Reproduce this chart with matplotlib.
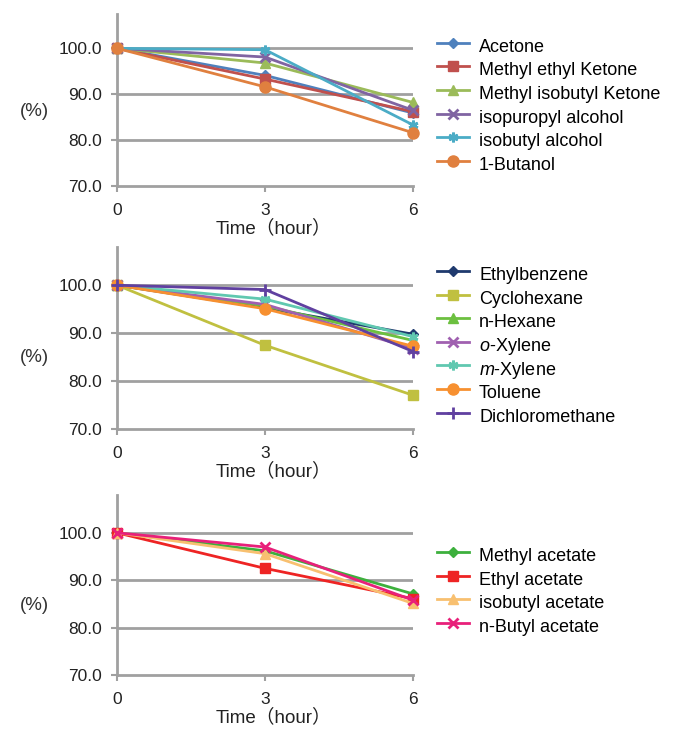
import matplotlib
matplotlib.use('Agg')
import matplotlib.pyplot as plt

plt.rcParams['font.family'] = ['Liberation Sans', 'Noto Sans CJK JP', 'DejaVu Sans']
plt.rcParams['mathtext.fontset'] = 'custom'
plt.rcParams['mathtext.rm'] = 'Liberation Sans'
plt.rcParams['mathtext.it'] = 'Liberation Sans:italic'

hours = [0, 3, 6]
y_ticks = [70, 80, 90, 100]

# panel 1: ketones and alcohols
names1 = ['Acetone', 'Methyl ethyl Ketone', 'Methyl isobutyl Ketone',
          'isopuropyl alcohol', 'isobutyl alcohol', '1-Butanol']
vals1 = [[100, 94.1, 85.9],
         [100, 93.3, 86.2],
         [100, 96.8, 88.2],
         [100, 98.1, 86.5],
         [100, 99.7, 83.3],
         [100, 91.6, 81.6]]
colors1 = ['#4F81BD', '#C0504D', '#9BBB59', '#8064A2', '#4BACC6', '#E0803F']

# panel 2: aromatics / hydrocarbons
names2 = ['Ethylbenzene', 'Cyclohexane', 'n-Hexane', '$o$-Xylene',
          '$m$-Xylene', 'Toluene', 'Dichloromethane']
vals2 = [[100, 95.3, 89.8],
         [100, 87.5, 77.1],
         [100, 95.7, 88.5],
         [100, 96.0, 86.8],
         [100, 97.1, 89.3],
         [100, 95.1, 87.3],
         [100, 99.1, 86.2]]
colors2 = ['#1F3A6E', '#C0C040', '#6CC040', '#A060B0', '#60C8B0', '#F79030', '#6040A0']

# panel 3: acetates
names3 = ['Methyl acetate', 'Ethyl acetate', 'isobutyl acetate', 'n-Butyl acetate']
vals3 = [[100, 96.2, 87.1],
         [100, 92.5, 86.1],
         [100, 95.6, 85.1],
         [100, 97.0, 85.8]]
colors3 = ['#3DB03D', '#EE2424', '#F8C070', '#E8207A']

markers = ['D', 's', '^', 'x', (6, 2, 0), 'o', '+']
msizes = [5, 7, 7, 7, 7, 8, 8]

W, H = 682, 729
fig = plt.figure(figsize=(W / 100, H / 100), dpi=100)

# rect, y top, (%) y pixel, legend centre y pixel
panels = [
    (names1, vals1, colors1, [0.1716, 0.7449, 0.434, 0.236], 107.5, 112, 105),
    (names2, vals2, colors2, [0.1716, 0.411, 0.434, 0.2505], 108.0, 357, 345),
    (names3, vals3, colors3, [0.1716, 0.0741, 0.434, 0.247], 108.0, 606, 590.5),
]

for names, vals, colors, rect, ytop, pct_y, leg_y in panels:
    ax = fig.add_axes(rect)
    for i, (n, v) in enumerate(zip(names, vals)):
        thin = markers[i] in ('x', '+') or isinstance(markers[i], tuple)
        ax.plot(hours, v, color=colors[i], marker=markers[i], markersize=msizes[i],
                markeredgewidth=2 if thin else 1,
                lw=2, label=n, clip_on=False, zorder=3)
    ax.set_xlim(0, 6)
    ax.set_ylim(70, ytop)
    ax.set_xticks(hours)
    ax.set_yticks(y_ticks)
    ax.set_yticklabels(['%.1f' % t for t in y_ticks])
    for t in y_ticks[1:]:
        ax.axhline(t, color='#a0a0a0', lw=2, zorder=1)
    for s in ['top', 'right']:
        ax.spines[s].set_visible(False)
    for s in ['left', 'bottom']:
        ax.spines[s].set_color('#a0a0a0')
        ax.spines[s].set_linewidth(2)
    ax.tick_params(axis='both', colors='#a0a0a0', labelcolor='#222222',
                   labelsize=12.5, length=4, width=1.5)
    ax.tick_params(axis='x', pad=8)
    ax.tick_params(axis='y', pad=7)
    ax.set_xlabel('Time（hour）', fontsize=13.5, color='#222222', labelpad=1, x=0.53)
    fig.text(34 / W, 1 - pct_y / H, '(%)', fontsize=13.5, color='#333333',
             ha='center', va='center')
    # tall handle boxes so that rows with math text keep the same pitch
    ax.legend(loc='center left', bbox_to_anchor=(437 / W, 1 - leg_y / H),
              bbox_transform=fig.transFigure, frameon=False,
              fontsize=13, handlelength=1.78, handleheight=1.7,
              labelspacing=-0.04, borderaxespad=0,
              borderpad=0, handletextpad=0.55)

fig.savefig('out.png', dpi=100)
